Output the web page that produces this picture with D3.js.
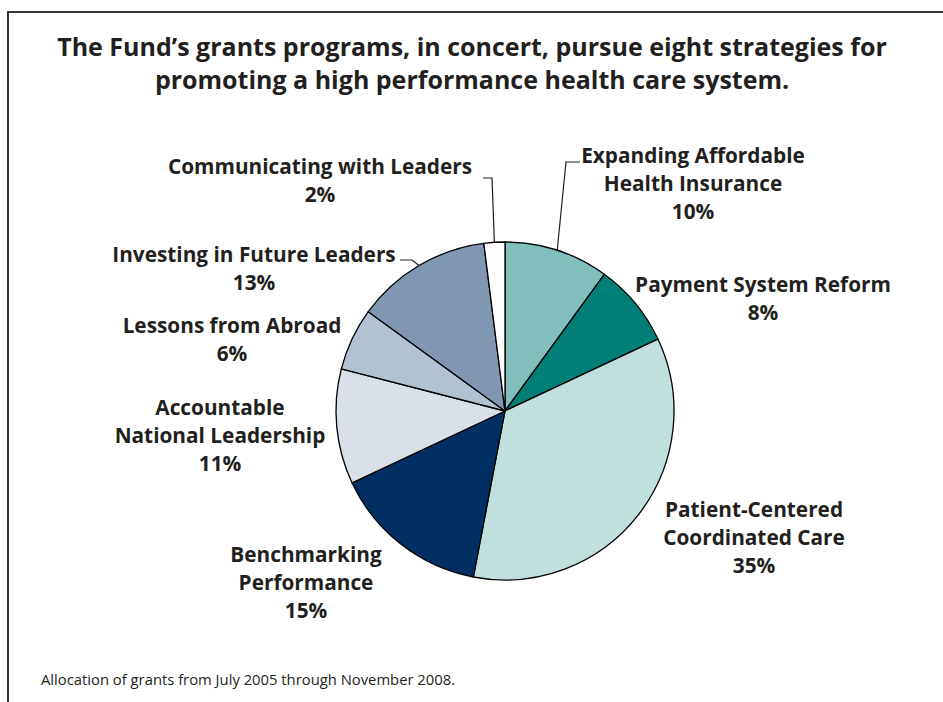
<!DOCTYPE html>
<html>
<head>
<meta charset="utf-8">
<script src="https://cdn.jsdelivr.net/npm/d3@7"></script>
<style>
  html, body { margin: 0; padding: 0; background: #fff; }
  svg { display: block; }
  text { font-family: "Open Sans", Lato, sans-serif; fill: #231f20; }
</style>
</head>
<body>
<svg id="chart" width="943" height="702"></svg>
<script>
// Grant allocation by strategy, clockwise from 12 o'clock
const categories = [
  "Expanding Affordable Health Insurance",
  "Payment System Reform",
  "Patient-Centered Coordinated Care",
  "Benchmarking Performance",
  "Accountable National Leadership",
  "Lessons from Abroad",
  "Investing in Future Leaders",
  "Communicating with Leaders"
];
const shares = [10, 8, 35, 15, 11, 6, 13, 2];
const labelLines = [
  ["Expanding Affordable", "Health Insurance"],
  ["Payment System Reform"],
  ["Patient-Centered", "Coordinated Care"],
  ["Benchmarking", "Performance"],
  ["Accountable", "National Leadership"],
  ["Lessons from Abroad"],
  ["Investing in Future Leaders"],
  ["Communicating with Leaders"]
];
const sliceColors = ["#80bfbc", "#007f79", "#c0dfdd", "#003063", "#d9e0e8", "#b3c2d2", "#8096b1", "#ffffff"];
const titleLines = [
  "The Fund\u2019s grants programs, in concert, pursue eight strategies for",
  "promoting a high performance health care system."
];
const footnote = "Allocation of grants from July 2005 through November 2008.";

// Layout
const W = 943, H = 702;
const cx = 505, cy = 411, R = 169;
const lineGap = 28;
// label block: centre x, first baseline y
const labelPos = [
  [693, 163], [763, 292], [754, 517], [306, 562],
  [220, 415], [232, 333], [254, 262], [320, 174]
];
// leader lines: elbow point and end point (only where drawn)
const leaders = {
  0: { elbow: [566, 162], end: [580, 162] },
  6: { elbow: [412, 260], end: [400, 260] },
  7: { elbow: [492, 178], end: [483, 178] }
};

const svg = d3.select("#chart");

// outer frame (runs off the right and bottom edges)
svg.append("path")
  .attr("d", `M8,${H + 5} L8,12 L${W + 5},12`)
  .attr("fill", "none")
  .attr("stroke", "#333")
  .attr("stroke-width", 2);

// title
const title = svg.append("text")
  .attr("text-anchor", "middle")
  .style("font-size", "25px")
  .style("font-weight", 700);
titleLines.forEach((t, i) => {
  title.append("tspan").attr("x", 472).attr("y", 56 + i * 33).text(t);
});

// pie
const pie = d3.pie().sort(null).value(d => d)(shares);
const arc = d3.arc().innerRadius(0).outerRadius(R);
const g = svg.append("g").attr("transform", `translate(${cx},${cy})`);
g.selectAll("path.slice")
  .data(pie)
  .join("path")
  .attr("class", "slice")
  .attr("d", arc)
  .attr("fill", (d, i) => sliceColors[i])
  .attr("stroke", "#000")
  .attr("stroke-width", 1.3)
  .attr("stroke-linejoin", "round");

// leader lines from slice mid-arc
Object.keys(leaders).forEach(k => {
  const d = pie[+k];
  const a = (d.startAngle + d.endAngle) / 2;
  const p0 = [cx + R * Math.sin(a), cy - R * Math.cos(a)];
  const L = leaders[k];
  svg.append("polyline")
    .attr("points", [p0, L.elbow, L.end].map(p => p.join(",")).join(" "))
    .attr("fill", "none")
    .attr("stroke", "#231f20")
    .attr("stroke-width", 1.2);
});

// labels
labelLines.forEach((lines, i) => {
  const [x, y] = labelPos[i];
  const t = svg.append("text")
    .attr("text-anchor", "middle")
    .style("font-size", "20.8px")
    .style("font-weight", 700);
  lines.forEach((ln, j) => {
    t.append("tspan").attr("x", x).attr("y", y + j * lineGap).text(ln);
  });
  t.append("tspan").attr("x", x).attr("y", y + lines.length * lineGap)
    .text(shares[i] + "%");
});

// footnote
svg.append("text")
  .attr("x", 41).attr("y", 685)
  .style("font-size", "14.8px")
  .text(footnote);
</script>
</body>
</html>
